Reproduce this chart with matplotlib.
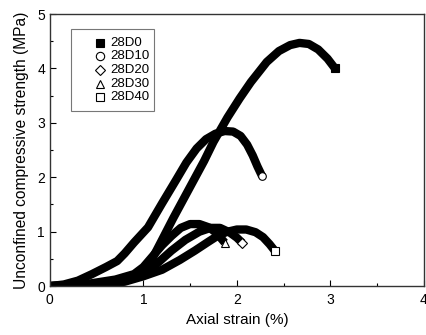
import matplotlib.pyplot as plt
from matplotlib.patches import Rectangle

plt.rcParams["font.family"] = ["Liberation Sans", "DejaVu Sans"]

# --------------------------------------------------
# DATA
# --------------------------------------------------

labels = ["28D0", "28D10", "28D20", "28D30", "28D40"]
markers = ["s", "o", "D", "^", "s"]
faces = ["black", "white", "white", "white", "white"]

strain_d0 = [0.0, 0.3, 0.6, 0.8, 0.95, 1.07, 1.2, 1.32, 1.43, 1.54, 1.65, 1.75, 1.9, 2.03, 2.15,
             2.32, 2.45, 2.57, 2.67, 2.77, 2.87, 2.97, 3.05]
stress_d0 = [0.0, 0.0, 0.03, 0.1, 0.24, 0.42, 0.85, 1.25, 1.6, 1.95, 2.3, 2.65, 3.1, 3.45, 3.75,
             4.12, 4.32, 4.43, 4.47, 4.45, 4.35, 4.18, 4.0]

strain_d10 = [0.0, 0.15, 0.3, 0.45, 0.6, 0.72, 0.8, 0.9, 1.05, 1.2, 1.35, 1.46, 1.57, 1.67, 1.77,
              1.87, 1.96, 2.04, 2.11, 2.17, 2.22, 2.27]
stress_d10 = [0.0, 0.03, 0.1, 0.22, 0.35, 0.46, 0.6, 0.8, 1.08, 1.52, 1.95, 2.27, 2.53, 2.7, 2.8,
              2.85, 2.84, 2.76, 2.6, 2.4, 2.2, 2.02]

strain_d20 = [0.0, 0.5, 0.8, 1.0, 1.15, 1.3, 1.45, 1.6, 1.72, 1.82, 1.92, 2.0, 2.06]
stress_d20 = [0.0, 0.03, 0.12, 0.25, 0.42, 0.65, 0.85, 1.0, 1.07, 1.07, 0.99, 0.89, 0.79]

strain_d30 = [0.0, 0.4, 0.7, 0.9, 1.0, 1.1, 1.2, 1.3, 1.4, 1.5, 1.6, 1.7, 1.78, 1.83, 1.87]
stress_d30 = [0.0, 0.04, 0.12, 0.22, 0.35, 0.55, 0.75, 0.92, 1.07, 1.14, 1.14, 1.08, 0.98, 0.88, 0.8]

strain_d40 = [0.0, 0.5, 0.8, 1.0, 1.2, 1.39, 1.55, 1.7, 1.8, 1.9, 2.0, 2.1, 2.2, 2.28, 2.35, 2.41]
stress_d40 = [0.0, 0.02, 0.08, 0.18, 0.3, 0.48, 0.65, 0.82, 0.93, 1.0, 1.04, 1.04, 0.99, 0.9, 0.77, 0.64]

strains = [strain_d0, strain_d10, strain_d20, strain_d30, strain_d40]
stresses = [stress_d0, stress_d10, stress_d20, stress_d30, stress_d40]

# --------------------------------------------------
# PLOT
# --------------------------------------------------

fig = plt.figure(figsize=(4.26, 3.35), dpi=100)
ax = fig.add_axes([0.117, 0.146, 0.878, 0.812])

for x, y, m, fc in zip(strains, stresses, markers, faces):
    ax.plot(x, y, color="black", lw=6, solid_capstyle="butt", solid_joinstyle="round")
    ax.plot(x[-1], y[-1], marker=m, ms=5.5 if m != "D" else 4.8, mfc=fc, mec="black",
            mew=0.8, linestyle="none", zorder=5)

ax.set_xlim(0, 4)
ax.set_ylim(0, 5)
ax.set_xticks([0, 1, 2, 3, 4])
ax.set_yticks([0, 1, 2, 3, 4, 5])
ax.set_xticks([0.5, 1.5, 2.5, 3.5], minor=True)
ax.set_yticks([0.5, 1.5, 2.5, 3.5, 4.5], minor=True)
ax.tick_params(which="both", direction="in", labelsize=10, colors="black")
ax.tick_params(which="major", length=4, width=0.8)
ax.tick_params(which="minor", length=2.5, width=0.8)
ax.tick_params(axis="x", pad=5)
for s in ax.spines.values():
    s.set_color("#333333")
    s.set_linewidth(1.0)

ax.set_xlabel("Axial strain (%)", fontsize=11, labelpad=4)
ax.set_ylabel("Unconfined compressive strength (MPa)", fontsize=11.2, labelpad=6)

# legend drawn by hand so the marker/text spacing matches
ax.add_patch(Rectangle((0.056, 0.643), 0.222, 0.302, transform=ax.transAxes,
                       facecolor="white", edgecolor="#777777", lw=0.8, zorder=6))
row_y = [0.894, 0.845, 0.794, 0.744, 0.694]
for lab, m, fc, yy in zip(labels, markers, faces, row_y):
    ax.plot(0.134, yy, marker=m, ms=6 if m != "D" else 5, mfc=fc, mec="black", mew=0.8,
            linestyle="none", transform=ax.transAxes, zorder=7, clip_on=False)
    ax.text(0.162, yy, lab, transform=ax.transAxes, fontsize=9.5, va="center", ha="left", zorder=7)

fig.savefig("out.png", dpi=100)
